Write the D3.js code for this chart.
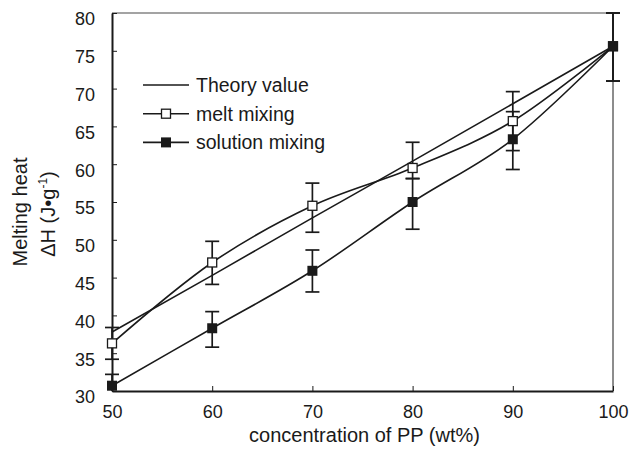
<!DOCTYPE html>
<html>
<head>
<meta charset="utf-8">
<script src="https://cdn.jsdelivr.net/npm/d3@7"></script>
<style>
  body { margin: 0; background: #fff; }
  svg { font-family: "Liberation Sans", Arial, sans-serif; }
  .axis text { font-size: 18px; fill: #1a1a1a; }
  .axis .domain { stroke: #1a1a1a; stroke-width: 2; }
  .axis .tick line { stroke: #1a1a1a; stroke-width: 1; }
</style>
</head>
<body>
<div class="chart"></div>
<script>
// data
const conc = [50, 60, 70, 80, 90, 100]
const theory = [37.8, 45.3, 52.9, 60.4, 68.0, 75.6]
const melt = [36.3, 47.0, 54.5, 59.5, 65.7, 75.6]
const meltErrUp = [2.1, 2.8, 3.0, 3.4, 3.9, 4.4]
const meltErrDown = [2.1, 2.9, 3.5, 1.4, 3.9, 4.6]
const solution = [30.7, 38.3, 45.9, 55.0, 63.3, 75.6]
const solErrUp = [1.5, 2.2, 2.75, 3.1, 3.65, 4.4]
const solErrDown = [0.7, 2.5, 2.8, 3.6, 4.0, 4.6]
const xTicks = [50, 60, 70, 80, 90, 100]
const yTicks = [30, 35, 40, 45, 50, 55, 60, 65, 70, 75, 80]
const legendNames = ['Theory value', 'melt mixing', 'solution mixing']

const W = 629, H = 450
const margin = { top: 13, right: 16, bottom: 59, left: 112 }
const ink = '#1a1a1a'

const svg = d3.select('.chart')
    .append('svg')
    .attr('width', W)
    .attr('height', H)

const x = d3.scaleLinear()
    .domain([50, 100])
    .range([margin.left, W - margin.right])
const y = d3.scaleLinear()
    .domain([30, 80])
    .range([H - margin.bottom, margin.top])

// frame: gray top, thin right
svg.append('line')
    .attr('x1', x(50)).attr('x2', x(100))
    .attr('y1', y(80)).attr('y2', y(80))
    .attr('stroke', '#858585').attr('stroke-width', 1.5)
svg.append('line')
    .attr('x1', x(100)).attr('x2', x(100))
    .attr('y1', y(80)).attr('y2', y(30))
    .attr('stroke', ink).attr('stroke-width', 1)

svg.append('g')
    .attr('class', 'axis')
    .attr('transform', `translate(0, ${y(30)})`)
    .call(d3.axisBottom(x).tickValues(xTicks).tickSizeInner(-5).tickSizeOuter(0).tickPadding(14))

svg.append('g')
    .attr('class', 'axis')
    .attr('transform', `translate(${x(50)}, 0)`)
    .call(d3.axisLeft(y).tickValues(yTicks).tickSizeInner(-5).tickSizeOuter(0).tickPadding(17))
    .selectAll('text')
    .attr('dy', '0.66em')

// axis titles
svg.append('text')
    .attr('x', (x(50) + x(100)) / 2 + 2)
    .attr('y', 442)
    .attr('text-anchor', 'middle')
    .attr('font-size', 20)
    .attr('fill', ink)
    .text('concentration of PP (wt%)')

svg.append('text')
    .attr('transform', 'translate(27, 212) rotate(-90)')
    .attr('text-anchor', 'middle')
    .attr('font-size', 20)
    .attr('fill', ink)
    .text('Melting heat')

const t2 = svg.append('text')
    .attr('transform', 'translate(55, 214) rotate(-90)')
    .attr('text-anchor', 'middle')
    .attr('font-size', 20)
    .attr('fill', ink)
t2.append('tspan').text('\u0394H (J\u2022g')
t2.append('tspan').attr('font-size', 12).attr('dy', -8).text('-1')
t2.append('tspan').attr('dy', 8).text(')')

// lines
const straight = d3.line().x((d, i) => x(conc[i])).y(d => y(d))
const smooth = d3.line().x((d, i) => x(conc[i])).y(d => y(d)).curve(d3.curveCatmullRom.alpha(0))

svg.append('path').attr('d', straight(theory))
    .attr('fill', 'none').attr('stroke', ink).attr('stroke-width', 1.6)
svg.append('path').attr('d', smooth(melt))
    .attr('fill', 'none').attr('stroke', ink).attr('stroke-width', 1.6)
svg.append('path').attr('d', smooth(solution))
    .attr('fill', 'none').attr('stroke', ink).attr('stroke-width', 1.6)

// error bars
function errorBars(vals, up, down) {
    const g = svg.append('g').attr('stroke', ink).attr('stroke-width', 1.7)
    vals.forEach((v, i) => {
        const cx = x(conc[i])
        const top = y(v + up[i]), bot = y(Math.max(30, v - down[i]))
        g.append('line').attr('x1', cx).attr('x2', cx).attr('y1', top).attr('y2', bot)
        g.append('line').attr('x1', cx - 7).attr('x2', cx + 7).attr('y1', top).attr('y2', top)
        if (v - down[i] > 30) {
            g.append('line').attr('x1', cx - 7).attr('x2', cx + 7).attr('y1', bot).attr('y2', bot)
        }
    })
}
errorBars(melt, meltErrUp, meltErrDown)
errorBars(solution, solErrUp, solErrDown)

// markers
svg.append('g').selectAll('rect')
    .data(melt)
    .join('rect')
    .attr('x', (d, i) => x(conc[i]) - 4.5)
    .attr('y', d => y(d) - 4.5)
    .attr('width', 9).attr('height', 9)
    .attr('fill', '#fff').attr('stroke', ink).attr('stroke-width', 1.3)

svg.append('g').selectAll('rect')
    .data(solution)
    .join('rect')
    .attr('x', (d, i) => x(conc[i]) - 5)
    .attr('y', d => y(d) - 5)
    .attr('width', 10).attr('height', 10)
    .attr('fill', ink)

// legend
const legend = svg.append('g')
legendNames.forEach((name, i) => {
    const ly = 85 + i * 28.7
    legend.append('line')
        .attr('x1', 143).attr('x2', 189).attr('y1', ly).attr('y2', ly)
        .attr('stroke', ink).attr('stroke-width', 1.6)
    if (i === 1) {
        legend.append('rect').attr('x', 161.5).attr('y', ly - 4.5).attr('width', 9).attr('height', 9)
            .attr('fill', '#fff').attr('stroke', ink).attr('stroke-width', 1.3)
    }
    if (i === 2) {
        legend.append('rect').attr('x', 161).attr('y', ly - 5).attr('width', 10).attr('height', 10)
            .attr('fill', ink)
    }
    legend.append('text')
        .attr('x', 196).attr('y', ly + 7)
        .attr('font-size', 19.5)
        .attr('fill', ink)
        .text(name)
})
</script>
</body>
</html>
